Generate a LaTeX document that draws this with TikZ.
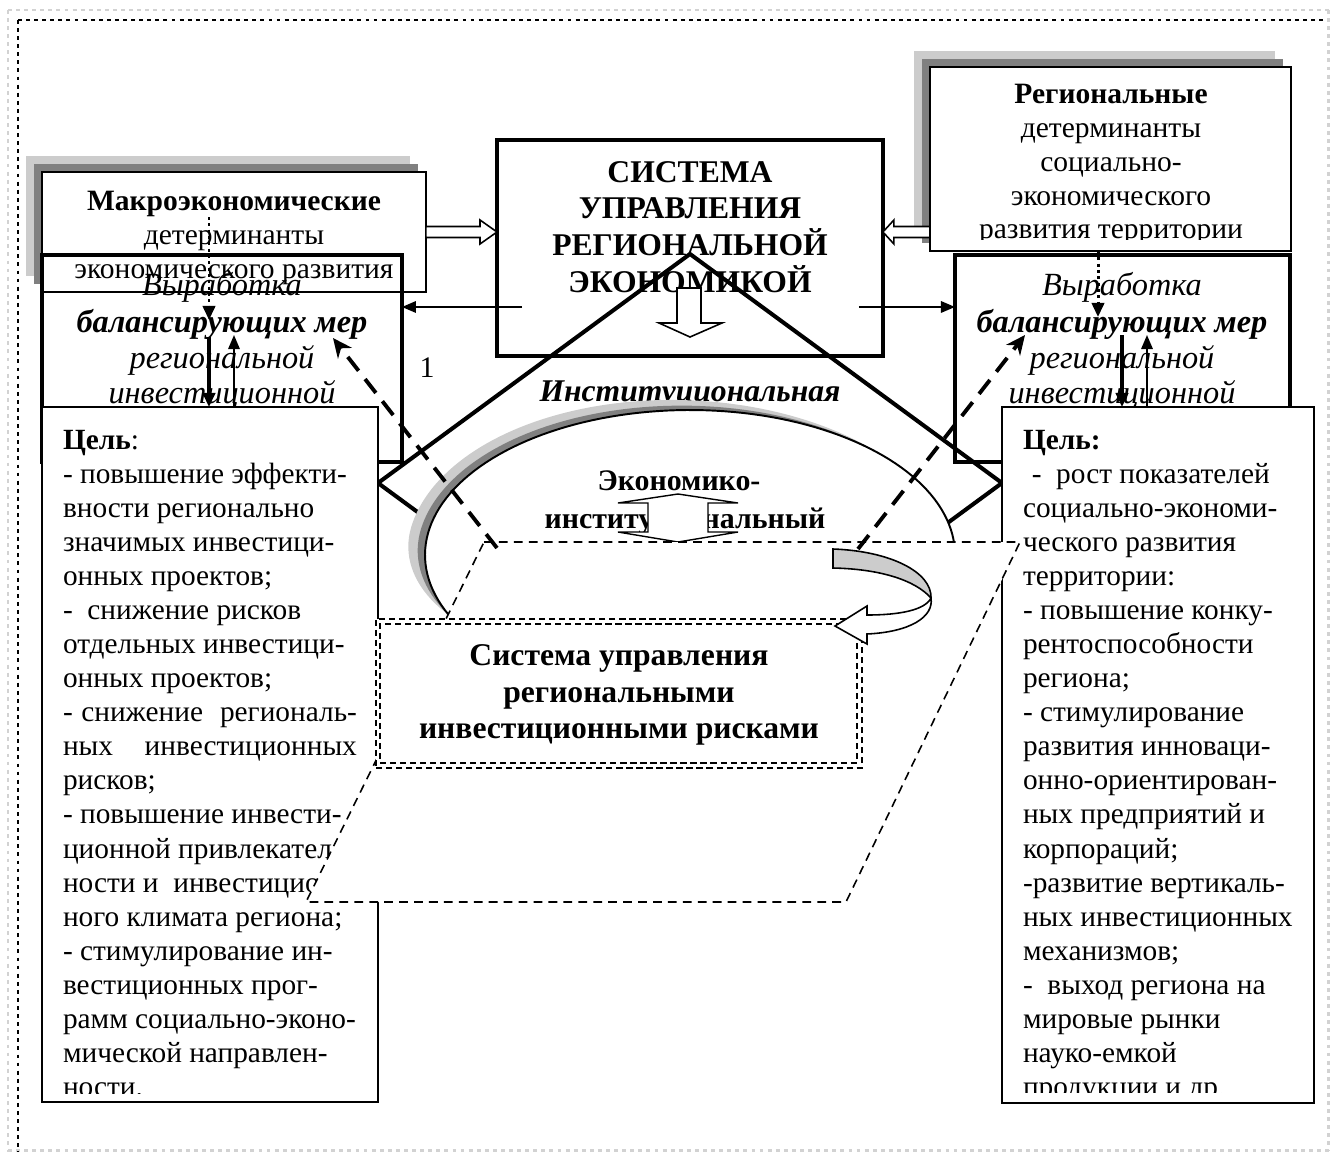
\documentclass[tikz,border=0pt]{standalone}
\usepackage{fontspec}
\setmainfont{Liberation Serif}
\usetikzlibrary{arrows.meta,calc}
\newcommand{\fsA}{\fontsize{16.8pt}{19pt}\selectfont}
\newcommand{\fsT}{\fontsize{18pt}{21pt}\selectfont\bfseries}
\newcommand{\fsI}{\fontsize{18.4pt}{21pt}\selectfont\itshape}
\newcommand{\fsG}{\fontsize{16.7pt}{19.4pt}\selectfont}
\newcommand{\fsE}{\fontsize{17pt}{20pt}\selectfont\bfseries}
\begin{document}
\begin{tikzpicture}[x=0.02cm,y=-0.02cm,
  every node/.style={inner sep=0pt, outer sep=0pt},
  lightsh/.style={fill=gray!40, draw=none, anchor=north west},
  darksh/.style={fill=gray, draw=none, anchor=north west},
  detbox/.style={draw=black, fill=white, line width=1pt, anchor=north west},
  thickbox/.style={draw=black, line width=2.2pt, anchor=north west},
  goalbox/.style={draw=black, fill=white, line width=1pt, anchor=north west},
  hollow/.style={draw=black, fill=white, line width=0.9pt, line join=miter},
  thinarrow/.style={line width=1.1pt, -{Triangle[length=8pt,width=6.5pt]}},
  boldarrow/.style={line width=1.8pt, -{Triangle[length=8pt,width=7pt]}},
  dotarrow/.style={line width=1.7pt, dash pattern=on 1.8pt off 1.8pt, -{Triangle[length=8pt,width=7pt]}},
  dasharrow/.style={line width=2.2pt, dash pattern=on 10pt off 6pt, -{Stealth[length=11pt,width=10pt]}},
  framedark/.style={black, line width=1.7pt, dash pattern=on 2.2pt off 2.4pt},
  framelight/.style={gray!35, line width=1.7pt, dash pattern=on 2.2pt off 2.4pt},
  parastyle/.style={draw=black, fill=white, line width=0.9pt, dash pattern=on 5pt off 3.5pt},
  riskline/.style={draw=black, line width=1.2pt, dash pattern=on 3.5pt off 2.2pt, anchor=north west},
  declare function={gg(\t)=(\t<190)*sin(90*(\t-155.6)/34.4)+(\t>=190)*cos(90*(\t-190)/125.4);}
]
\useasboundingbox (0,0) rectangle (1333,1157);

% ---------- frame ----------
\draw[framelight] (8,10) -- (1330,10);
\draw[framelight] (8,10) -- (8,1152);
\draw[framelight] (1328,10) -- (1328,1150);
\draw[framelight] (8,1150) -- (1330,1150);
\draw[framedark] (18,20) -- (1325,20);
\draw[framedark] (18,20) -- (18,1152);

% ---------- determinant boxes ----------
\node[lightsh, minimum width=7.68cm, minimum height=2.4cm] (macroL) at (26,156) {};
\node[darksh, minimum width=7.68cm, minimum height=2.4cm] (macroD) at (34,164) {};
\node[detbox, minimum width=7.68cm, minimum height=2.4cm] (macro) at (42,172) {};
\node[anchor=base, font=\fsA\bfseries] (macroT1) at (234,210) {Макроэкономические};
\node[anchor=base, font=\fsA] (macroT2) at (234,244) {детерминанты};
\node[anchor=base, font=\fsA] (macroT3) at (234,278) {экономического развития};

\node[lightsh, minimum width=7.22cm, minimum height=3.68cm] (regL) at (914,51) {};
\node[darksh, minimum width=7.22cm, minimum height=3.68cm] (regD) at (922,59) {};
\node[detbox, minimum width=7.22cm, minimum height=3.68cm] (regional) at (930,67) {};
\begin{scope}
\clip (930,67) rectangle (1291,239);
\node[anchor=base, font=\fsA\bfseries] (regT1) at (1111,103) {Региональные};
\node[anchor=base, font=\fsA] (regT2) at (1111,137) {детерминанты};
\node[anchor=base, font=\fsA] (regT3) at (1111,171) {социально-};
\node[anchor=base, font=\fsA] (regT4) at (1111,205) {экономического};
\node[anchor=base, font=\fsA] (regT5) at (1111,238) {развития территории};
\end{scope}

% ---------- thick boxes ----------
\node[thickbox, minimum width=7.2cm, minimum height=4.14cm] (thickL) at (42,255) {};
\node[anchor=base, font=\fsI] (tL1) at (222,295) {Выработка};
\node[anchor=base, font=\fsI\bfseries] (tL2) at (222,332) {балансирующих мер};
\node[anchor=base, font=\fsI] (tL3) at (222,368) {региональной};
\node[anchor=base, font=\fsI] (tL4) at (222,403) {инвестиционной};

\node[thickbox, minimum width=6.7cm, minimum height=4.14cm] (thickR) at (955,255) {};
\node[anchor=base, font=\fsI] (tR1) at (1122,295) {Выработка};
\node[anchor=base, font=\fsI\bfseries] (tR2) at (1122,332) {балансирующих мер};
\node[anchor=base, font=\fsI] (tR3) at (1122,368) {региональной};
\node[anchor=base, font=\fsI] (tR4) at (1122,403) {инвестиционной};

% ---------- central box ----------
\node[draw=black, fill=white, line width=2.2pt, anchor=north west, minimum width=7.72cm, minimum height=4.32cm] (center) at (497,140) {};
\node[anchor=base, font=\fsT] (cT1) at (690,182) {СИСТЕМА};
\node[anchor=base, font=\fsT] (cT2) at (690,218) {УПРАВЛЕНИЯ};
\node[anchor=base, font=\fsT] (cT3) at (690,255) {РЕГИОНАЛЬНОЙ};
\node[anchor=base, font=\fsT] (cT4) at (690,292) {ЭКОНОМИКОЙ};
\draw[hollow] (677,288) -- (701,288) -- (701,323) -- (722,323) -- (690,337) -- (659,323) -- (677,323) -- cycle;

% hollow arrows into the central box
\draw[hollow] ($(macro.east)+(0,-5.5)$) -- ($(center.west |- macro.east)+(-17,-5.5)$) -- ($(center.west |- macro.east)+(-17,-12)$) -- (center.west |- macro.east) -- ($(center.west |- macro.east)+(-17,12)$) -- ($(center.west |- macro.east)+(-17,5.5)$) -- ($(macro.east)+(0,5.5)$) -- cycle;
\draw[hollow] ($(regional.west |- macro.east)+(0,-5.5)$) -- ($(center.east |- macro.east)+(11,-5.5)$) -- ($(center.east |- macro.east)+(11,-12)$) -- (center.east |- macro.east) -- ($(center.east |- macro.east)+(11,12)$) -- ($(center.east |- macro.east)+(11,5.5)$) -- ($(regional.west |- macro.east)+(0,5.5)$) -- cycle;

% thin arrows from the central box
\coordinate (cL) at ($(center.west)+(25,59)$);
\coordinate (cR) at ($(center.east)+(-24,59)$);
\draw[thinarrow] (cL) -- (thickL.east |- cL);
\draw[thinarrow] (cR) -- (thickR.west |- cR);

% dotted and vertical arrows
\coordinate (dLs) at (209,217);
\coordinate (dLe) at (209,320);
\draw[dotarrow] (dLs) -- (dLe);
\coordinate (dRe) at (1098,317);
\draw[dotarrow] (regional.south -| dRe) -- (dRe);
\coordinate (sLs) at (209,337);
\coordinate (uLe) at (234,335);
\coordinate (sRs) at (1122,335);
\coordinate (uRe) at (1147,335);

% ---------- diamond ----------
\coordinate (dmT) at (690,254);
\coordinate (dmR) at (1002,483);
\coordinate (dmB) at (690,712);
\coordinate (dmL) at (378,483);
\draw[line width=2.3pt, line join=miter] (dmT) -- (dmR) -- (dmB) -- (dmL) -- cycle;

\node[anchor=base, font=\fontsize{17pt}{20pt}\selectfont] (one) at (427,377) {1};
\node[anchor=base, font=\fontsize{18pt}{21pt}\selectfont\bfseries\itshape] (inst) at (690,401) {Институциональная};

% ---------- ellipse with shaded rim ----------
\fill[gray!40] plot[domain=155.6:315.4, samples=90, variable=\t] ({690+(265+18*gg(\t))*cos(\t)}, {555+(145+18*gg(\t))*sin(\t)}) -- cycle;
\fill[gray] plot[domain=155.6:315.4, samples=90, variable=\t] ({690+(265+8*gg(\t))*cos(\t)}, {555+(145+8*gg(\t))*sin(\t)}) -- cycle;
\fill[white] plot[domain=0:360, samples=120, variable=\t] ({690+265*cos(\t)}, {555+145*sin(\t)}) -- cycle;
\draw[line width=1.1pt] plot[domain=155.6:360, samples=100, variable=\t] ({690+265*cos(\t)}, {555+145*sin(\t)});

\node[anchor=base, font=\fsE] (ek1) at (679,490) {Экономико-};
\node[anchor=base, font=\fsE] (ek2) at (685,528) {институциональный};
\draw[hollow, line width=0.8pt] (678,494) -- (738,503) -- (708,503) -- (708,532) -- (738,532) -- (678,542) -- (618,532) -- (648,532) -- (648,503) -- (618,503) -- cycle;

% ---------- goal boxes ----------
\node[goalbox, minimum width=6.72cm, minimum height=13.9cm] (goalL) at (42,407) {};
\node[goalbox, minimum width=6.24cm, minimum height=13.92cm] (goalR) at (1002,407) {};
\draw[boldarrow] (sLs) -- (goalL.north -| sLs);
\draw[thinarrow] (goalL.north -| uLe) -- (uLe);
\draw[boldarrow] (sRs) -- (goalR.north -| sRs);
\draw[thinarrow] (goalR.north -| uRe) -- (uRe);

\begin{scope}
\clip (42,407) rectangle (378,1093);
\node[anchor=base west] (goalLtxt) at (63,449) {\parbox[t]{8cm}{\fsG\raggedright
\textbf{Цель}:\\
- повышение эффекти-\\
вности регионально\\
значимых инвестици-\\
онных проектов;\\
-\ \ снижение рисков\\
отдельных инвестици-\\
онных проектов;\\
\makebox[5.88cm][s]{- снижение\ \ региональ-}\\
\makebox[5.88cm][s]{ных инвестиционных}\\
рисков;\\
- повышение инвести-\\
ционной привлекател\\
ности и\ \ инвестицио\\
ного климата региона;\\
- стимулирование ин-\\
вестиционных прог-\\
рамм социально-эконо-\\
мической направлен-\\
ности.}};
\end{scope}

\begin{scope}
\clip (1002,407) rectangle (1314,1092);
\node[anchor=base west] (goalRtxt) at (1023,449) {\parbox[t]{8cm}{\fsG\raggedright
\textbf{Цель:}\\
\hspace*{5pt}-\ \ рост показателей\\
социально-экономи-\\
ческого развития\\
территории:\\
- повышение конку-\\
рентоспособности\\
региона;\\
- стимулирование\\
развития инноваци-\\
онно-ориентирован-\\
ных предприятий и\\
корпораций;\\
-развитие вертикаль-\\
ных инвестиционных\\
механизмов;\\
-\ \ выход региона на\\
мировые рынки\\
науко-емкой\\
продукции и др.}};
\end{scope}

% ---------- parallelogram ----------
\coordinate (pA) at (484,542);
\coordinate (pB) at (1020,542);
\coordinate (pC) at (846,902);
\coordinate (pD) at (306,902);
\draw[parastyle] (pA) -- (pB) -- (pC) -- (pD) -- cycle;

% ---------- risk management box ----------
\node[riskline, fill=white, minimum width=9.72cm, minimum height=2.98cm] (riskO) at (376,619) {};
\node[riskline, minimum width=9.54cm, minimum height=2.78cm] (riskI) at (380,624) {};
\node[anchor=base, font=\fsT] (rT1) at (619,665) {Система управления};
\node[anchor=base, font=\fsT] (rT2) at (619,702) {региональными};
\node[anchor=base, font=\fsT] (rT3) at (619,738) {инвестиционными рисками};

% ---------- curved arrow ----------
\draw[fill=gray!40, line width=0.9pt] (833,549) .. controls (890,551) and (932,572) .. (931,598) .. controls (915,580) and (880,569) .. (833,568) -- cycle;
\draw[fill=white, line width=0.9pt, line join=miter] (931,598) .. controls (925,610) and (900,615) .. (867,615) -- (867,606) -- (835,626) -- (867,644) -- (867,634) .. controls (910,632) and (934,617) .. (931,598) -- cycle;

% ---------- dashed arrows ----------
\coordinate (daLs) at (497,548);
\coordinate (daLe) at (333,338);
\coordinate (daRs) at (858,549);
\coordinate (daRe) at (1025,335);
\draw[dasharrow] (daLs) -- (daLe);
\draw[dasharrow] (daRs) -- (daRe);
\end{tikzpicture}
\end{document}
